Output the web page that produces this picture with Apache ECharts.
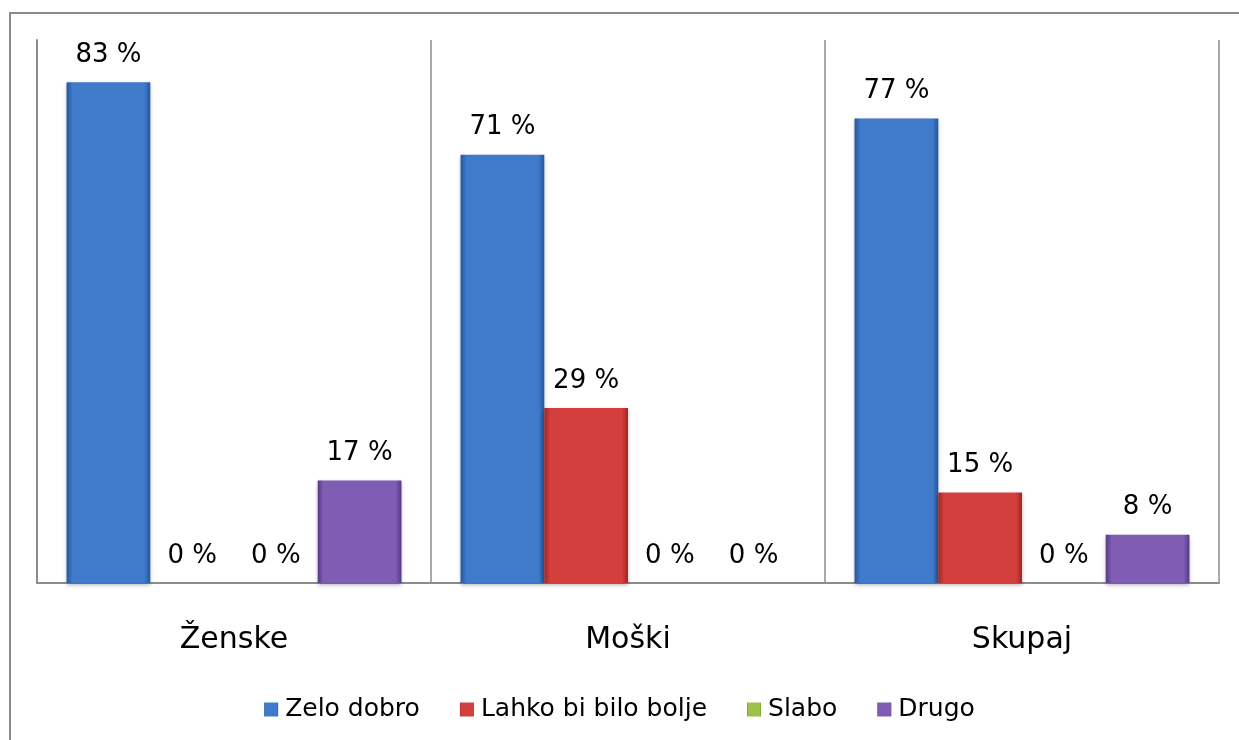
<!DOCTYPE html>
<html><head><meta charset="utf-8">
<script src="https://cdn.jsdelivr.net/npm/echarts@6/dist/echarts.min.js"></script>
<style>
html,body{margin:0;padding:0;background:#fff;overflow:hidden;}
#frame{position:absolute;left:9px;top:12px;width:1300px;height:800px;border:2px solid #8c8c8c;box-sizing:border-box;}
#main{position:absolute;left:0;top:0;width:1239px;height:740px;}
</style></head>
<body>
<div id="frame"></div>
<div id="main"></div>
<script>
const categories = ['Ženske', 'Moški', 'Skupaj'];
const seriesNames = ['Zelo dobro', 'Lahko bi bilo bolje', 'Slabo', 'Drugo'];
const zeloDobro = [83, 71, 77];
const lahkoBiBiloBolje = [0, 29, 15];
const slabo = [0, 0, 0];
const drugo = [17, 0, 8];

const FONT = "'Century Gothic', 'URW Gothic', 'DejaVu Sans', sans-serif";
const colors = [
  ['#25569c', '#3f7acb', '#25569c'],
  ['#9e2624', '#d33f3c', '#9e2624'],
  ['#6f8f2c', '#9cc24a', '#6f8f2c'],
  ['#553a85', '#7f5db5', '#553a85']
];
function grad(c) {
  return new echarts.graphic.LinearGradient(0, 0, 1, 0, [
    {offset: 0, color: c[0]}, {offset: 0.07, color: c[1]},
    {offset: 0.93, color: c[1]}, {offset: 1, color: c[2]}
  ]);
}
const datasets = [zeloDobro, lahkoBiBiloBolje, slabo, drugo];
const chart = echarts.init(document.getElementById('main'));
chart.setOption({
  animation: false,
  legend: {
    bottom: 13, left: 'center',
    itemWidth: 14, itemHeight: 14, itemGap: 40,
    icon: 'rect',
    textStyle: {fontFamily: FONT, fontSize: 25, color: '#000', padding: [0, 0, 0, 2]},
    data: seriesNames
  },
  grid: {left: 37, right: 20, top: 40, bottom: 157},
  xAxis: {
    type: 'category', data: categories,
    axisLine: {show: true, lineStyle: {color: '#8c8c8c', width: 2}},
    axisTick: {show: false},
    splitLine: {show: true, lineStyle: {color: '#8c8c8c', width: 1.5}},
    axisLabel: {fontFamily: FONT, fontSize: 30, color: '#000', margin: 42}
  },
  yAxis: {
    type: 'value', min: 0, max: 90,
    axisLine: {show: true, lineStyle: {color: '#8c8c8c', width: 2}},
    axisTick: {show: false}, axisLabel: {show: false}, splitLine: {show: false}
  },
  series: datasets.map((d, i) => ({
    name: seriesNames[i], type: 'bar', data: d,
    barGap: '0%', barCategoryGap: '15%',
    itemStyle: {color: grad(colors[i]), shadowColor: 'rgba(0,0,0,0.3)', shadowBlur: 4, shadowOffsetY: 2},
    label: {show: true, position: 'top', distance: 14, formatter: '{c} %',
      fontFamily: FONT, fontSize: 26, color: '#000'}
  }))
});
</script>
</body></html>
